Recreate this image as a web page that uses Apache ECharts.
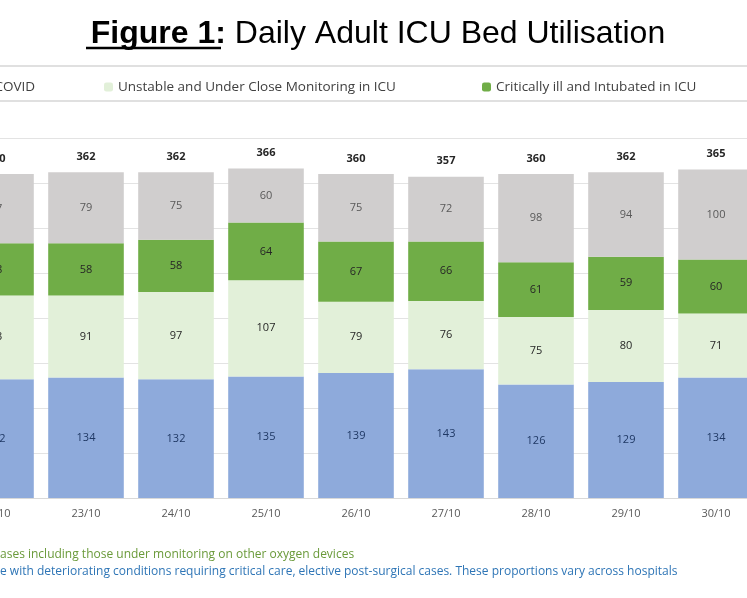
<!DOCTYPE html>
<html><head><meta charset="utf-8">
<script src="https://cdn.jsdelivr.net/npm/echarts@6/dist/echarts.min.js"></script>
<style>html,body{margin:0;padding:0;overflow:hidden;background:#fff;width:747px;height:598px}
#c{position:absolute;left:-100px;top:0;width:900px;height:598px}</style></head>
<body><div id="c"></div>
<script>
const categories = ['22/10','23/10','24/10','25/10','26/10','27/10','28/10','29/10','30/10'];
const stableCovid = [132,134,132,135,139,143,126,129,134];
const unstable = [93,91,97,107,79,76,75,80,71];
const critical = [58,58,58,64,67,66,61,59,60];
const nonCovid = [77,79,75,60,75,72,98,94,100];
const totals = [360,362,362,366,360,357,360,362,365];
const names = ['Stable, COVID','Unstable and Under Close Monitoring in ICU','Critically ill and Intubated in ICU','Non-COVID'];

const chart = echarts.init(document.getElementById('c'));
const F = 'Open Sans, Liberation Sans, sans-serif';
function s(name, data, color, lc) {
  return {name, type:'bar', stack:'t', data, barCategoryGap:'16%',
    itemStyle:{color}, label:{show:true, color:lc, fontSize:11, fontFamily:F}};
}
chart.setOption({
  animation:false,
  title:{text:'{b|Figure 1:} Daily Adult ICU Bed Utilisation', left:473, textAlign:'center', top:13,
    textStyle:{fontSize:32, fontWeight:'normal', color:'#000', fontFamily:'Liberation Sans, Arial',
      rich:{b:{fontSize:32, fontWeight:'bold', fontFamily:'Liberation Sans, Arial', color:'#000'}}}},
  legend:[
    {data:[names[0]], right:760, top:75, itemWidth:9, itemHeight:9, textStyle:{fontSize:13.5, color:'#404040', fontFamily:F}},
    {data:[names[1]], left:199, top:75, itemWidth:9, itemHeight:9, textStyle:{fontSize:13.5, color:'#404040', fontFamily:F}},
    {data:[names[2]], left:577, top:75, itemWidth:9, itemHeight:9, textStyle:{fontSize:13.5, color:'#404040', fontFamily:F}}
  ],
  grid:{left:51, right:39, top:138, bottom:100},
  xAxis:{type:'category', data:categories, axisTick:{show:false},
    axisLine:{lineStyle:{color:'#d9d9d9'}},
    axisLabel:{color:'#595959', fontSize:11, fontFamily:F, margin:10}},
  yAxis:{type:'value', min:0, max:400, interval:50, axisLabel:{show:false},
    splitLine:{lineStyle:{color:'#e3e3e3'}}},
  series:[
    s(names[0], stableCovid, '#8eaadb', '#1f3864'),
    s(names[1], unstable, '#e2f0d9', '#262626'),
    s(names[2], critical, '#70ad47', '#262626'),
    s(names[3], nonCovid, '#d0cece', '#595959'),
    {name:'total', type:'bar', stack:'t', data:totals.map(()=>0), itemStyle:{color:'transparent'},
      label:{show:true, position:'top', distance:10, fontSize:11, fontWeight:'bold', color:'#262626', fontFamily:F,
        formatter:p=>totals[p.dataIndex]}}
  ],
  graphic:[
    {type:'line', shape:{x1:0,y1:66,x2:900,y2:66}, style:{stroke:'#e0e0e0', lineWidth:2}},
    {type:'line', shape:{x1:0,y1:101,x2:900,y2:101}, style:{stroke:'#e0e0e0', lineWidth:2}},
    {type:'line', shape:{x1:186,y1:48,x2:321,y2:48}, style:{stroke:'#000', lineWidth:2.5}},
    {type:'text', left:100, top:549, style:{text:'ases including those under monitoring on other oxygen devices', fill:'#6a9a3a', fontSize:12, fontFamily:'Liberation Sans Narrow, '+F}},
    {type:'text', left:100, top:566, style:{text:'e with deteriorating conditions requiring critical care, elective post-surgical cases. These proportions vary across hospitals', fill:'#2e75b6', fontSize:12, fontFamily:'Liberation Sans Narrow, '+F}}
  ]
});
</script></body></html>
